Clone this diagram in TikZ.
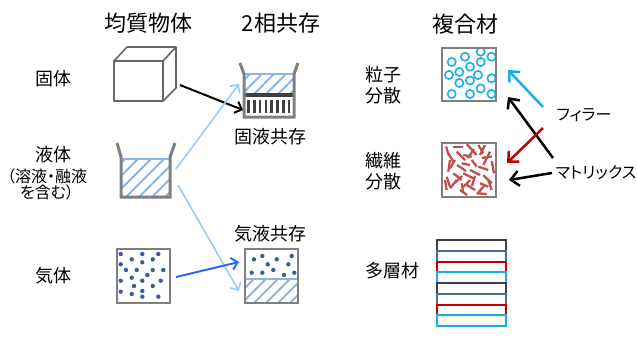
\documentclass[tikz,border=0pt]{standalone}
\usepackage{fontspec}
\newfontfamily\jpfont[RawFeature=+palt]{Noto Sans CJK JP}
\usetikzlibrary{arrows.meta}
\definecolor{framegray}{HTML}{7F7F7F}
\definecolor{darkgray}{HTML}{404040}
\definecolor{hatchblue}{HTML}{8DB4E2}
\definecolor{dotblue}{HTML}{3B5E95}
\definecolor{lightarrow}{HTML}{9DC8F8}
\definecolor{midblue}{HTML}{3366FF}
\definecolor{cyanline}{HTML}{17AFEA}
\definecolor{redline}{HTML}{C00000}
\definecolor{fiberred}{HTML}{C0504D}
\definecolor{slate}{HTML}{4F6B94}
\begin{document}
\begin{tikzpicture}[x=1pt,y=-1pt,
  ttl/.style={font=\jpfont\fontsize{22}{26}\selectfont, inner sep=0pt},
  lbl/.style={font=\jpfont\fontsize{18}{21}\selectfont, inner sep=0pt, align=center},
  note/.style={font=\jpfont\fontsize{16}{16}\selectfont, inner sep=0pt, align=center},
  small/.style={font=\jpfont\fontsize{16}{20}\selectfont, inner sep=0pt},
  frame/.style={draw=framegray, line width=2.5pt, inner sep=0pt, outer sep=0pt},
  wall/.style={draw=framegray, line width=3pt, line join=miter},
  cubeline/.style={draw=darkgray!80, line width=1.6pt, line join=round},
  hatch/.style={draw=hatchblue, line width=2pt},
  surface/.style={draw=hatchblue, line width=2.5pt},
  gasdot/.style={fill=dotblue, draw=none},
  bar/.style={draw=darkgray, line width=2.5pt},
  ball/.style={draw=cyanline, line width=1.6pt},
  fiber/.style={draw=fiberred, line width=2.3pt},
  layer/.style={line width=2pt},
  arr/.style={-{Straight Barb[length=6pt,width=12pt]}, line width=2pt},
  arrblack/.style={arr, draw=black},
  arrlight/.style={arr, draw=lightarrow, line width=1.6pt},
  arrblue/.style={arr, draw=midblue},
  arrbig/.style={-{Straight Barb[length=8pt,width=15pt]}, line width=2.5pt}]
\useasboundingbox (0,0) rectangle (637,338);

% column titles
\node[ttl] (tHomo) at (148,23) {均質物体};
\node[ttl] (tTwo) at (281,23) {2相共存};
\node[ttl] (tComp) at (465,24) {複合材};

% row labels, left column
\node[lbl] (lSolid) at (53,79) {固体};
\node[lbl] (lLiquid) at (53,155) {液体};
\node[note] (lLiqNote) at (47,184) {（溶液・融液\\を含む）};
\node[lbl] (lGas) at (53,276) {気体};
\node[lbl] (lSL) at (270,137) {固液共存};
\node[lbl] (lGL) at (270,234) {気液共存};

% row labels, composites
\node[lbl] (lPart) at (383,85) {粒子\\分散};
\node[lbl] (lFib) at (383,171) {繊維\\分散};
\node[lbl] (lLay) at (392,271) {多層材};
\node[small] (lFill) at (584,115) {フィラー};
\node[small] (lMat) at (596,173) {マトリックス};

% solid: cube
\draw[cubeline] (114,61) rectangle (163,101);
\draw[cubeline] (114,61) -- (127,47) -- (176,47) -- (163,61);
\draw[cubeline] (176,47) -- (176,88) -- (163,101);

% liquid: beaker with hatched contents
\begin{scope}
  \clip (121,159) rectangle (170,197);
  \foreach \k in {-50,-37,...,60} \draw[hatch] ({121+\k},200) -- ++(50,-50);
\end{scope}
\draw[surface] (121,159) -- (170,159);
\draw[wall] (117,143) -- (121,157) -- (121,197) -- (170,197) -- (170,157) -- (175,143);

% gas: box of molecules
\node[frame, minimum width=53pt, minimum height=54pt] (gasBox) at (143.5,276) {};
\foreach \p in {(120.7,254),(142.3,254),(158.3,254),(131.7,259.3),(152.7,259.3),
  (120.7,264.3),(142.3,262.3),(126,270),(136.7,270),(152.7,270),(163.3,270),
  (147.3,275),(131.7,277.7),(120.7,280.7),(142.3,280.7),(160.7,280.7),
  (134,286),(152.7,286),(120.7,291.7),(142.3,291),(131.7,294),(142.3,296.7),
  (158.3,296.7)}
  \fill[gasdot] \p circle (2.2pt);

% solid-liquid coexistence: beaker with liquid over solid
\begin{scope}
  \clip (245,74) rectangle (293,94);
  \foreach \k in {-30,-18,...,60} \draw[hatch] ({245+\k},97) -- ++(30,-30);
\end{scope}
\draw[surface] (245,74) -- (293,74);
\draw[bar, line width=3.5pt] (245,95) -- (293,95);
\foreach \i in {0,...,7} \draw[bar] ({248.5+5.8*\i},100) -- ++(0,13);
\draw[wall] (240,63) -- (244,74) -- (244,117) -- (294,117) -- (294,74) -- (298,63);

% gas-liquid coexistence: vapour over liquid
\begin{scope}
  \clip (245,280) rectangle (298,303);
  \foreach \k in {-30,-18,...,70} \draw[hatch] ({245+\k},306) -- ++(30,-30);
\end{scope}
\draw[surface] (246,279) -- (297,279);
\foreach \p in {(254,259.3),(262.3,256),(267.7,264.3),(276.7,259.3),(291.7,256),
  (288.3,264.3),(251.7,272.7),(262.3,272.7),(273.3,270),(284,275),(294.3,272.7)}
  \fill[gasdot] \p circle (2.2pt);
\node[frame, minimum width=53pt, minimum height=54pt] (glBox) at (271.5,276) {};

% phase-change arrows
\coordinate (cubeOut) at (180,85);
\coordinate (slIn) at (243,110);
\coordinate (liqUp) at (176,169);
\coordinate (slInL) at (239,84);
\coordinate (liqDown) at (178,185);
\coordinate (glInL) at (239,291);
\coordinate (gasOut) at (176,277);
\coordinate (glInV) at (239,262);
\draw[arrblack] (cubeOut) -- (slIn);
\draw[arrlight] (liqUp) -- (slInL);
\draw[arrlight] (liqDown) -- (glInL);
\draw[arrblue] (gasOut) -- (glInV);

% particle-dispersed composite
\foreach \p in {(451.7,62),(465,56.7),(480.7,51.7),(491.5,56.7),(480.7,62),
  (470,66.7),(449,75),(459.3,72),(478,75),(491.5,78.3),(470,80.5),(459.3,83),
  (451.7,94),(470,94),(480.7,88.5),(491.5,94)}
  \draw[ball] \p circle (4.1pt);
\node[frame, minimum width=54pt, minimum height=53pt] (partBox) at (469,74.5) {};

% fibre-dispersed composite
\foreach \a/\b in {
  {(453.3,147.3)}/{(463.3,147.3)}, {(466.7,144)}/{(476.7,155)},
  {(478.3,145)}/{(483.3,153.3)}, {(485,145)}/{(480,155)},
  {(448.3,153.3)}/{(453.3,161.7)}, {(456.7,151.7)}/{(465,160)},
  {(463.3,155)}/{(471.7,156.7)}, {(450,168.3)}/{(455,160)},
  {(461.7,163.3)}/{(470,165)}, {(471.7,160)}/{(476.7,166.7)},
  {(490,151.7)}/{(483.3,165)}, {(478.3,166.7)}/{(488.3,170)},
  {(491.7,161)}/{(494,173.3)}, {(446.7,176.7)}/{(450,186.7)},
  {(453.3,173.3)}/{(461.7,180)}, {(463.3,173.3)}/{(473.3,178.3)},
  {(470,170)}/{(480,175)}, {(483.3,175)}/{(491.7,183.3)},
  {(450,188.3)}/{(456.7,180)}, {(461.7,183.3)}/{(463.3,193.3)},
  {(466.7,185)}/{(475,190)}, {(476.7,193.3)}/{(486.7,194)},
  {(480,183.3)}/{(488.3,186.7)}, {(488.3,180)}/{(491.7,190)},
  {(445,180)}/{(446.7,190)}, {(460,190)}/{(467,195)},
  {(470,180)}/{(463.3,187)}, {(481.7,158)}/{(491.7,156.5)},
  {(450,160)}/{(448.3,171.7)}, {(446,146.5)}/{(449,156)},
  {(457,165)}/{(466,171)}, {(474,149)}/{(468,158)},
  {(484,186)}/{(478,193)}, {(455,183)}/{(462,176)},
  {(475,176)}/{(472,186)}}
  \draw[fiber] \a -- \b;
\node[frame, minimum width=54pt, minimum height=54pt] (fibBox) at (469,170) {};

% multilayer composite
\foreach \c [count=\i from 0] in {darkgray,slate,redline,cyanline,darkgray,slate,redline,cyanline}
  \draw[layer, draw=\c] (437,{240+10.75*\i}) rectangle (506,{250.75+10.75*\i});

% filler / matrix pointers
\coordinate (fillTail) at (543,107);
\coordinate (fillHead) at (508,70);
\coordinate (matTail1) at (553,158);
\coordinate (matHead1) at (508,97);
\coordinate (fibTail) at (543,128);
\coordinate (fibHead) at (507,163);
\coordinate (matTail2) at (552,173);
\coordinate (matHead2) at (509,180);
\draw[arrbig, draw=cyanline] (fillTail) -- (fillHead);
\draw[arrbig, draw=black] (matTail1) -- (matHead1);
\draw[arrbig, draw=redline] (fibTail) -- (fibHead);
\draw[arrbig, draw=black] (matTail2) -- (matHead2);
\end{tikzpicture}
\end{document}
